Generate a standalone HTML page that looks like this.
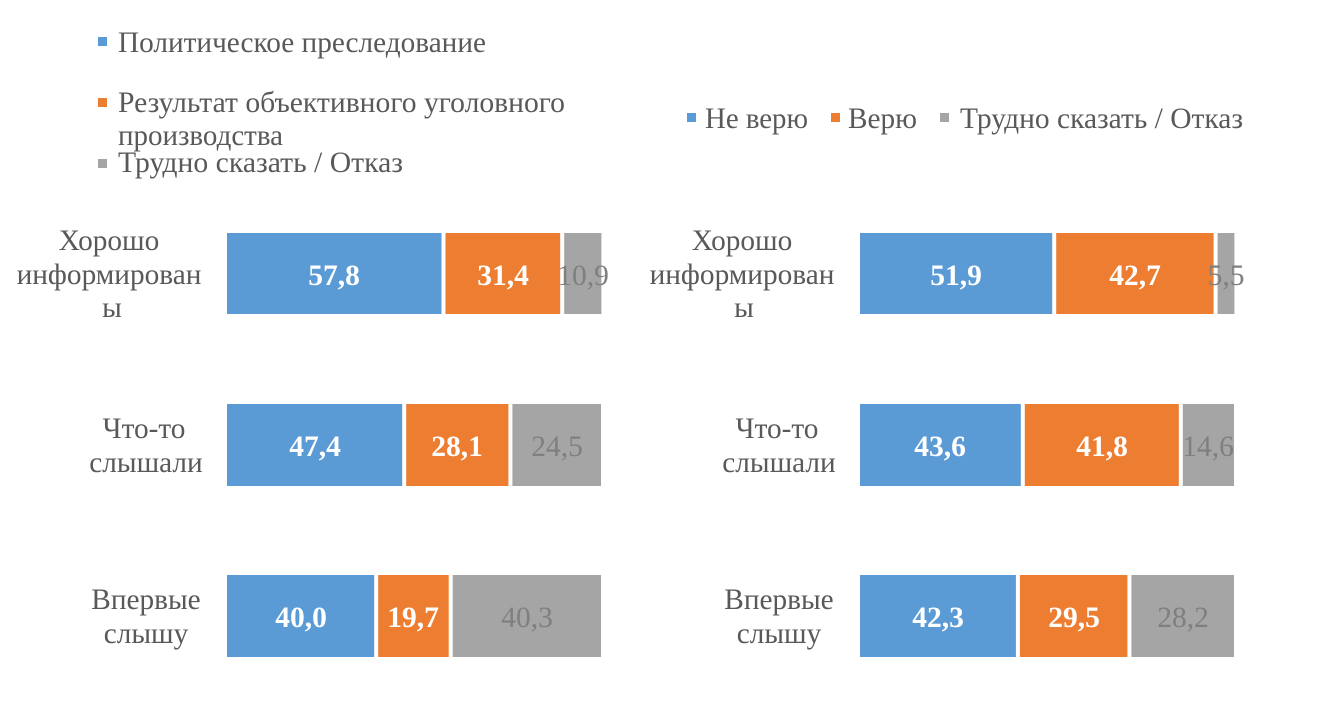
<!DOCTYPE html>
<html>
<head>
<meta charset="utf-8">
<style>
  html, body { margin:0; padding:0; background:#ffffff; }
  svg { display:block; }
  text { font-family: "Liberation Serif", "Noto Serif CJK SC", serif; }
</style>
</head>
<body>
<svg width="1317" height="724" viewBox="0 0 1317 724" xmlns="http://www.w3.org/2000/svg">
  <rect x="0" y="0" width="1317" height="724" fill="#ffffff"/>

  <!-- Left legend -->
  <g font-size="29.3" fill="#595959">
    <rect x="98" y="37" width="9" height="9" fill="#5b9bd5"/>
    <text x="118" y="52" textLength="368" lengthAdjust="spacingAndGlyphs">Политическое преследование</text>
    <rect x="98" y="98" width="9" height="9" fill="#ed7d31"/>
    <text x="118" y="112" textLength="447" lengthAdjust="spacingAndGlyphs">Результат объективного уголовного</text>
    <text x="118" y="145" textLength="165" lengthAdjust="spacingAndGlyphs">производства</text>
    <rect x="98" y="159" width="9" height="9" fill="#a5a5a5"/>
    <text x="118" y="172" textLength="285" lengthAdjust="spacingAndGlyphs">Трудно сказать / Отказ</text>
  </g>

  <!-- Right legend -->
  <g font-size="29.3" fill="#595959">
    <rect x="687" y="113" width="9" height="9" fill="#5b9bd5"/>
    <text x="705" y="128" textLength="103" lengthAdjust="spacingAndGlyphs">Не верю</text>
    <rect x="831" y="113" width="9" height="9" fill="#ed7d31"/>
    <text x="848" y="128" textLength="69" lengthAdjust="spacingAndGlyphs">Верю</text>
    <rect x="940" y="113" width="9" height="9" fill="#a5a5a5"/>
    <text x="960" y="128" textLength="283" lengthAdjust="spacingAndGlyphs">Трудно сказать / Отказ</text>
  </g>

  <!-- Left category labels -->
  <g font-size="29.3" fill="#595959" text-anchor="middle">
    <text x="109" y="250">Хорошо</text>
    <text x="109" y="284">информирован</text>
    <text x="112" y="317">ы</text>
    <text x="144" y="438">Что-то</text>
    <text x="146" y="472">слышали</text>
    <text x="146" y="609">Впервые</text>
    <text x="146" y="643">слышу</text>
  </g>

  <!-- Right category labels -->
  <g font-size="29.3" fill="#595959" text-anchor="middle">
    <text x="742" y="250">Хорошо</text>
    <text x="742" y="284">информирован</text>
    <text x="744" y="317">ы</text>
    <text x="777" y="438">Что-то</text>
    <text x="779" y="472">слышали</text>
    <text x="779" y="609">Впервые</text>
    <text x="779" y="643">слышу</text>
  </g>

  <!-- Left bars (start 225, 3.78 px/unit) -->
  <rect x="227" y="233" width="214.5" height="81" fill="#5b9bd5"/>
  <rect x="445.5" y="233" width="114.7" height="81" fill="#ed7d31"/>
  <rect x="564.2" y="233" width="37.2" height="81" fill="#a5a5a5"/>

  <rect x="227" y="404" width="175.2" height="82" fill="#5b9bd5"/>
  <rect x="406.2" y="404" width="102.2" height="82" fill="#ed7d31"/>
  <rect x="512.4" y="404" width="88.6" height="82" fill="#a5a5a5"/>

  <rect x="227" y="575" width="147.2" height="82" fill="#5b9bd5"/>
  <rect x="378.2" y="575" width="70.5" height="82" fill="#ed7d31"/>
  <rect x="452.7" y="575" width="148.3" height="82" fill="#a5a5a5"/>

  <!-- Right bars (start 858, 3.78 px/unit) -->
  <rect x="860" y="233" width="192.2" height="81" fill="#5b9bd5"/>
  <rect x="1056.2" y="233" width="157.4" height="81" fill="#ed7d31"/>
  <rect x="1217.6" y="233" width="16.8" height="81" fill="#a5a5a5"/>

  <rect x="860" y="404" width="160.8" height="82" fill="#5b9bd5"/>
  <rect x="1024.8" y="404" width="154" height="82" fill="#ed7d31"/>
  <rect x="1182.8" y="404" width="51.2" height="82" fill="#a5a5a5"/>

  <rect x="860" y="575" width="155.9" height="82" fill="#5b9bd5"/>
  <rect x="1019.9" y="575" width="107.5" height="82" fill="#ed7d31"/>
  <rect x="1131.4" y="575" width="102.6" height="82" fill="#a5a5a5"/>

  <!-- Left bar labels -->
  <g font-size="29.5" text-anchor="middle">
    <text x="334" y="285" fill="#ffffff" font-weight="bold">57,8</text>
    <text x="503" y="285" fill="#ffffff" font-weight="bold">31,4</text>
    <text x="583" y="285" fill="#7f7f7f">10,9</text>

    <text x="315" y="456" fill="#ffffff" font-weight="bold">47,4</text>
    <text x="457" y="456" fill="#ffffff" font-weight="bold">28,1</text>
    <text x="557" y="456" fill="#7f7f7f">24,5</text>

    <text x="301" y="627" fill="#ffffff" font-weight="bold">40,0</text>
    <text x="413" y="627" fill="#ffffff" font-weight="bold">19,7</text>
    <text x="527" y="627" fill="#7f7f7f">40,3</text>
  </g>

  <!-- Right bar labels -->
  <g font-size="29.5" text-anchor="middle">
    <text x="956" y="285" fill="#ffffff" font-weight="bold">51,9</text>
    <text x="1135" y="285" fill="#ffffff" font-weight="bold">42,7</text>
    <text x="1226" y="285" fill="#7f7f7f">5,5</text>

    <text x="940" y="456" fill="#ffffff" font-weight="bold">43,6</text>
    <text x="1102" y="456" fill="#ffffff" font-weight="bold">41,8</text>
    <text x="1208" y="456" fill="#7f7f7f">14,6</text>

    <text x="938" y="627" fill="#ffffff" font-weight="bold">42,3</text>
    <text x="1074" y="627" fill="#ffffff" font-weight="bold">29,5</text>
    <text x="1183" y="627" fill="#7f7f7f">28,2</text>
  </g>
</svg>
</body>
</html>
